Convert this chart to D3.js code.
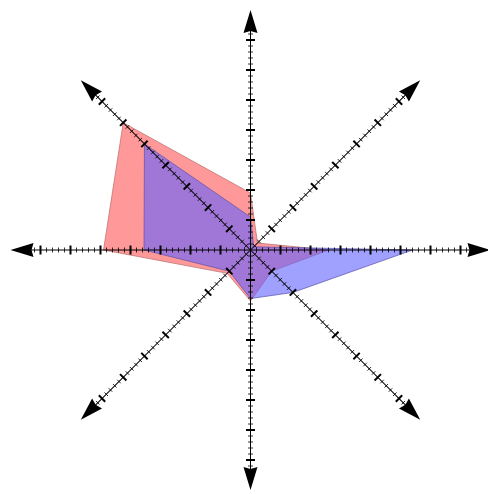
<!DOCTYPE html>
<html>
  <head>
    <script src="https://d3js.org/d3.v7.min.js" charset="utf-8"></script>
    <meta charset="UTF-8">
    <title>radar</title>
    <style>
      body { margin: 0; background: #fff; }
    </style>
  </head>
  <body>
    <svg class="chart"></svg>
    <script type="text/javascript">

     var width = 488,
         height = 494,
         cx = 250.5,
         cy = 250,
         maxValue = 8;

     // spokes, counter-clockwise from east
     var directions = ["E", "NE", "N", "NW", "W", "SW", "S", "SE"];
     var redValues  = [2.6, 0.33, 1.9, 6.0, 4.9, 1.1, 1.7, 1.0];
     var blueValues = [5.4, 0.15, 1.1, 5.0, 3.55, 1.0, 1.62, 2.0];
     var tickSteps = d3.range(1, 37).map(function(k) { return k / 5; });

     var chart = d3.select(".chart")
                   .attr("width", width)
                   .attr("height", height);

     var r = d3.scaleLinear().domain([0, maxValue]).range([0, 240]);

     var g = chart.append("g").attr("transform", "translate(" + cx + "," + cy + ")");

     var radial = d3.lineRadial()
                    .angle(function(d, i) { return Math.PI / 2 - i * Math.PI / 4; })
                    .radius(function(d) { return r(d); })
                    .curve(d3.curveLinearClosed);

     g.append("path")
      .attr("d", radial(redValues))
      .attr("fill", "rgb(255,0,0)")
      .attr("fill-opacity", 0.4)
      .attr("stroke", "#b86a6a")
      .attr("stroke-width", 0.7);

     g.append("path")
      .attr("d", radial(blueValues))
      .attr("fill", "rgb(97,97,255)")
      .attr("fill-opacity", 0.6)
      .attr("stroke", "#5a50a8")
      .attr("stroke-width", 0.7);

     // axes: one group per spoke, rotated
     var spokes = g.append("g").attr("class", "axes")
                   .selectAll("g")
                   .data(directions)
                   .enter().append("g")
                   .attr("transform", function(d, i) { return "rotate(" + (-45 * i) + ")"; });

     spokes.append("line")
           .attr("x1", 0).attr("y1", 0)
           .attr("x2", r(maxValue) - 20).attr("y2", 0)
           .attr("stroke", "#000")
           .attr("stroke-width", 1);

     spokes.selectAll("line.tick")
           .data(tickSteps)
           .enter().append("line")
           .attr("class", "tick")
           .attr("x1", function(d) { return r(d); })
           .attr("x2", function(d) { return r(d); })
           .attr("y1", function(d, k) { return (k + 1) % 5 === 0 ? -4.5 : -2.5; })
           .attr("y2", function(d, k) { return (k + 1) % 5 === 0 ? 4.5 : 2.5; })
           .attr("stroke", "#000")
           .attr("stroke-width", function(d, k) { return (k + 1) % 5 === 0 ? 2 : 0.8; });

     spokes.append("path")
           .attr("d", function() {
               var tip = r(maxValue), base = tip - 23;
               return "M" + tip + ",0L" + base + ",-7L" + (base + 2) + ",0L" + base + ",7Z";
           })
           .attr("fill", "#000");

    </script>
  </body>
</html>
